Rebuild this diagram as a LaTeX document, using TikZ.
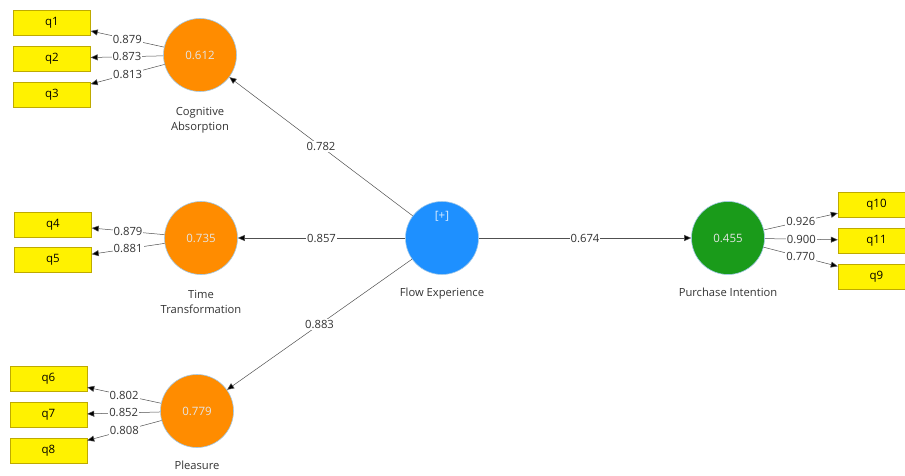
\documentclass[tikz,border=0pt]{standalone}
\usepackage{fontspec}
\setmainfont{Open Sans}
\usetikzlibrary{positioning,arrows.meta}
\definecolor{lvorange}{RGB}{255,140,0}
\definecolor{lvblue}{RGB}{30,144,255}
\definecolor{lvgreen}{RGB}{26,155,26}
\definecolor{lvrim}{RGB}{160,200,232}
\definecolor{boxrim}{RGB}{190,170,0}
\definecolor{wire}{RGB}{80,80,80}
\tikzset{
  latent/.style={circle,draw=lvrim,line width=0.6pt,minimum size=73pt,inner sep=0pt,text=white!90!black},
  item/.style={rectangle,draw=boxrim,fill=yellow,minimum width=77pt,minimum height=25pt,inner sep=0pt},
  path/.style={draw=wire,line width=0.5pt,-{Triangle[length=7pt,width=6pt,fill=black]}},
  coef/.style={fill=white,text=black!80,inner sep=1pt,font=\fontsize{11.3}{13}\selectfont},
  caption/.style={align=center,font=\fontsize{11.2}{15}\selectfont,text=black!80}
}
\begin{document}
\begin{tikzpicture}[x=1pt,y=-1pt,font=\fontsize{11.5}{13}\selectfont]
\clip (0,0) rectangle (905,476);
% latent variables
\node[latent,fill=lvorange](NCA) at (200,55){0.612};
\node[latent,fill=lvorange](NTT) at (201,238){0.735};
\node[latent,fill=lvorange](NPL) at (197,411){0.779};
\node[latent,fill=lvblue](NFE) at (442,238){};
\node[latent,fill=lvgreen](NPI) at (728,238){0.455};
\node[text=white!85!lvblue] at ([yshift=22pt]NFE.center){[+]};
\node[caption,below=12pt of NCA]{Cognitive\\Absorption};
\node[caption,below=12pt of NTT]{Time\\Transformation};
\node[caption,below=10pt of NPL]{Pleasure};
\node[caption,below=10pt of NFE]{Flow Experience};
\node[caption,below=10pt of NPI]{Purchase Intention};
% indicators
\node[item](NQ1) at (52,22.5){q1};
\node[item,below=10.5pt of NQ1](NQ2){q2};
\node[item,below=10.5pt of NQ2](NQ3){q3};
\node[item](NQ4) at (53,224.5){q4};
\node[item,below=10pt of NQ4](NQ5){q5};
\node[item](NQ6) at (48.5,379){q6};
\node[item,below=10.5pt of NQ6](NQ7){q7};
\node[item,below=10.5pt of NQ7](NQ8){q8};
\node[item](NQ10) at (876.5,204.5){q10};
\node[item,below=10.5pt of NQ10](NQ11){q11};
\node[item,below=10.5pt of NQ11](NQ9){q9};
% inner model
\draw[path](NFE)--node[coef]{0.782}(NCA);
\draw[path](NFE)--node[coef]{0.857}(NTT);
\draw[path](NFE)--node[coef]{0.883}(NPL);
\draw[path](NFE)--node[coef]{0.674}(NPI);
% outer model
\draw[path](NCA)--node[coef]{0.879}(NQ1);
\draw[path](NCA)--node[coef]{0.873}(NQ2);
\draw[path](NCA)--node[coef]{0.813}(NQ3);
\draw[path](NTT)--node[coef]{0.879}(NQ4);
\draw[path](NTT)--node[coef]{0.881}(NQ5);
\draw[path](NPL)--node[coef]{0.802}(NQ6);
\draw[path](NPL)--node[coef]{0.852}(NQ7);
\draw[path](NPL)--node[coef]{0.808}(NQ8);
\draw[path](NPI)--node[coef]{0.926}(NQ10);
\draw[path](NPI)--node[coef]{0.900}(NQ11);
\draw[path](NPI)--node[coef]{0.770}(NQ9);
\end{tikzpicture}
\end{document}
